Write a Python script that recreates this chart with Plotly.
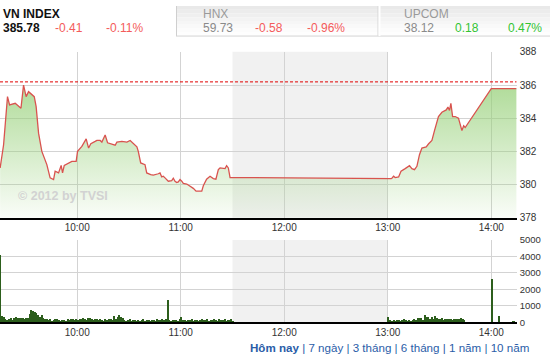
import plotly.graph_objects as go
import pandas as pd

DAY = "2012-06-01"

# ---------------- data ----------------
idx_times = [
    "09:15:20", "09:17:20", "09:19:36", "09:20:48", "09:24:04", "09:25:24", "09:27:24",
    "09:28:54", "09:30:24", "09:31:48", "09:33:42", "09:35:06", "09:36:12", "09:37:36",
    "09:39:30", "09:42:24", "09:44:18", "09:46:18", "09:47:12", "09:49:12", "09:50:42",
    "09:51:30", "09:52:30", "09:55:00", "09:56:54", "09:59:24", "10:00:12", "10:02:42",
    "10:05:12", "10:06:36", "10:07:54", "10:10:24", "10:11:24", "10:13:18", "10:14:18",
    "10:16:12", "10:17:36", "10:22:00", "10:23:00", "10:25:54", "10:28:48", "10:30:42",
    "10:32:36", "10:34:36", "10:35:24", "10:36:48", "10:39:18", "10:40:18", "10:42:36",
    "10:44:06", "10:47:00", "10:48:00", "10:49:00", "10:49:54", "10:50:54", "10:52:48",
    "10:54:48", "10:55:42", "10:56:42", "10:57:42", "10:58:36", "10:59:36", "11:00:36",
    "11:01:30", "11:03:30", "11:05:24", "11:07:18", "11:08:54", "11:12:12", "11:13:06",
    "11:15:00", "11:17:00", "11:18:54", "11:20:24", "11:21:48", "11:22:48", "11:24:18",
    "11:25:42", "11:26:36", "11:27:36", "11:28:36", "11:30:00", "13:02:00", "13:02:24",
    "13:03:24", "13:04:18", "13:06:18", "13:07:42", "13:10:06", "13:12:36", "13:14:00",
    "13:15:30", "13:16:54", "13:18:24", "13:19:48", "13:22:18", "13:23:42", "13:25:36",
    "13:27:06", "13:29:24", "13:31:24", "13:33:54", "13:34:54", "13:35:48", "13:36:36",
    "13:37:36", "13:39:06", "13:41:00", "13:43:00", "13:44:00", "13:44:54", "14:00:00",
    "14:14:40",
]
idx_values = [
    381.0, 382.4, 385.3, 384.8, 384.9, 384.8, 384.6,
    386.0, 385.3, 385.6, 385.45, 385.3, 384.7, 383.1,
    382.0, 381.2, 380.4, 380.3, 380.8, 380.7, 381.15,
    380.7, 381.15, 381.3, 381.4, 381.4, 382.0, 382.3,
    382.75, 382.2, 382.46, 382.6, 382.66, 382.66, 382.56,
    382.99, 382.52, 382.37, 382.56, 382.6, 382.56, 382.66,
    382.46, 382.27, 382.0, 381.3, 381.2, 380.7, 380.6,
    380.57, 380.65, 380.7, 380.46, 380.5, 380.4, 380.2,
    380.24, 380.38, 380.2, 380.12, 380.16, 380.3, 380.2,
    380.07, 380.03, 379.9, 379.77, 379.6, 379.6, 379.93,
    380.32, 380.5, 380.36, 380.32, 380.9, 381.0, 381.0,
    380.96, 381.14, 381.0, 380.42, 380.42, 380.36, 380.38,
    380.5, 380.42, 380.46, 380.8, 380.96, 381.14, 380.96,
    380.9, 381.1, 381.8, 382.2, 382.27, 382.46, 382.66,
    383.25, 384.1, 384.36, 384.5, 384.67, 384.47, 384.9,
    384.1, 384.1, 384.0, 383.25, 383.54, 383.44, 385.78,
    385.78,
]
ref_close = 386.19  # previous close (385.78 + 0.41)

vol_am_start = "09:15"
vol_am = [
    4100, 380, 340, 200, 170, 230, 280, 170, 280, 340,
    240, 280, 240, 240, 210, 280, 240, 490, 750, 680,
    620, 560, 430, 300, 470, 280, 190, 210, 150, 190,
    95, 150, 190, 230, 150, 110, 150, 150, 110, 190,
    150, 190, 230, 150, 190, 150, 230, 190, 260, 210,
    150, 280, 240, 190, 150, 190, 230, 150, 190, 150,
    110, 190, 150, 190, 230, 150, 380, 210,
    340, 430, 300, 240, 150, 110, 150, 190, 110, 130,
    150, 95, 130, 110, 150, 190, 110, 130, 150, 110,
    170, 130, 110, 200, 150, 130, 210, 150, 190, 1380,
    150, 110, 170, 130, 150, 110, 190, 320, 150, 130,
    110, 150, 130, 190, 110, 130, 150, 110, 170, 210,
    130, 150, 230, 110, 170, 130, 230, 150, 110, 190,
    150, 130, 210, 110, 150, 130, 190, 60,
]
vol_pm_start = "13:00"
vol_pm = [
    300, 130, 110, 130, 95, 150, 130, 110, 150, 200,
    170, 110, 150, 110, 150, 190, 130, 245, 280, 260,
    170, 480, 340, 300, 210, 340, 190, 380, 245, 210,
    190, 245, 170, 190, 210, 190, 210, 170, 190, 210,
    190, 230, 245, 190, 130,
]
vol_atc_times = ["14:00", "14:04", "14:12", "14:13"]
vol_atc = [2650, 420, 60, 80]

hour_ticks = ["10:00", "11:00", "12:00", "13:00", "14:00"]
idx_ticks = [378, 380, 382, 384, 386, 388]
vol_ticks = [0, 1000, 2000, 3000, 4000, 5000]

header = [
    ("VN INDEX", "385.78", "-0.41", "-0.11%"),
    ("HNX", "59.73", "-0.58", "-0.96%"),
    ("UPCOM", "38.12", "0.18", "0.47%"),
]
periods = ["Hôm nay", "7 ngày", "3 tháng", "6 tháng", "1 năm", "10 năm"]

# ---------------- helpers ----------------
W, H = 550, 364
def px(x):
    return x / W
def py(y):
    return 1 - y / H
def ts(t):
    return pd.Timestamp(f"{DAY} {t}")

FONT = "Liberation Sans, Arial, sans-serif"
x_range = [ts("09:15:15"), ts("14:14:45")]

t_idx = [ts(t) for t in idx_times]
t_am = list(pd.date_range(ts(vol_am_start), periods=len(vol_am), freq="1min"))
t_pm = list(pd.date_range(ts(vol_pm_start), periods=len(vol_pm), freq="1min"))
t_atc = [ts(t) for t in vol_atc_times]
vol_t = t_am + t_pm + t_atc
vol_v = vol_am + vol_pm + vol_atc

fig = go.Figure()

fig.add_trace(go.Scatter(
    x=t_idx, y=idx_values, mode="lines",
    line=dict(color="#d9534f", width=1.3),
    fill="tozeroy",
    fillgradient=dict(
        type="vertical", start=378, stop=386,
        colorscale=[[0, "rgba(150,208,120,0.03)"], [1, "rgba(150,208,120,0.75)"]],
    ),
    xaxis="x", yaxis="y", hoverinfo="skip", showlegend=False,
))
fig.add_trace(go.Scatter(
    x=x_range, y=[ref_close, ref_close], mode="lines",
    line=dict(color="#e00000", width=1, dash="3px,2px"),
    xaxis="x", yaxis="y", hoverinfo="skip", showlegend=False,
))
fig.add_trace(go.Bar(
    x=vol_t, y=vol_v, width=48000,
    xperiod=60000, xperiodalignment="middle",
    marker=dict(color="#2c5e1c", line=dict(width=0)),
    xaxis="x2", yaxis="y2", hoverinfo="skip", showlegend=False,
))

shapes = []
# lunch break bands
for xr, yr in (("x", "y domain"), ("x2", "y2 domain")):
    shapes.append(dict(type="rect", xref=xr, yref=yr, x0=ts("11:30"), x1=ts("13:00"),
                       y0=0, y1=1, fillcolor="#f1f1f1", line=dict(width=0), layer="below"))

# header boxes gradient
grad = ["#e9e9e9", "#ececec", "#efefef", "#f3f3f3", "#f6f6f6", "#f9f9f9", "#fcfcfc", "#fefefe"]
for i, c in enumerate(grad):
    shapes.append(dict(type="rect", xref="paper", yref="paper",
                       x0=px(176), x1=px(550), y0=py(31 * (i + 1) / len(grad)), y1=py(31 * i / len(grad)),
                       fillcolor=c, line=dict(width=0), layer="below"))
shapes.append(dict(type="line", xref="paper", yref="paper", x0=px(176.5), x1=px(176.5),
                   y0=py(0), y1=py(31), line=dict(color="#cfcfcf", width=1)))
shapes.append(dict(type="line", xref="paper", yref="paper", x0=px(176), x1=px(550),
                   y0=py(31), y1=py(31), line=dict(color="#d4d4d4", width=1)))
shapes.append(dict(type="line", xref="paper", yref="paper", x0=px(378), x1=px(378),
                   y0=py(0), y1=py(31), line=dict(color="#d6d6d6", width=1)))
shapes.append(dict(type="line", xref="paper", yref="paper", x0=px(379.5), x1=px(379.5),
                   y0=py(0), y1=py(31), line=dict(color="#ffffff", width=2)))

ann = []
def text(x, y, s, color, bold=False, size=12):
    ann.append(dict(xref="paper", yref="paper", x=px(x), y=py(y), text=(f"<b>{s}</b>" if bold else s),
                    showarrow=False, xanchor="left", yanchor="middle",
                    font=dict(family=FONT, size=size, color=color)))

RED, GREEN = "#f45b5b", "#33c433"
n, v, c, p = header[0]
text(1, 8.5, n, "#111", bold=True)
text(1, 22.5, v, "#111", bold=True)
text(53, 22.5, c, RED)
text(104, 22.5, p, RED)
n, v, c, p = header[1]
text(201, 8, n, "#9a9a9a")
text(201, 22.5, v, "#8a8a8a")
text(253, 22.5, c, RED)
text(305, 22.5, p, RED)
n, v, c, p = header[2]
text(402, 8, n, "#9a9a9a")
text(402, 22.5, v, "#8a8a8a")
text(453, 22.5, c, GREEN)
text(506, 22.5, p, GREEN)

# watermark
text(16, 196, "© 2012 by TVSI", "#d2d2d2", bold=True, size=12.5)

# period selector
sel = "<b>" + periods[0] + "</b>" + "".join(" | " + s for s in periods[1:])
ann.append(dict(xref="paper", yref="paper", x=px(531), y=py(352.5), text=sel,
                showarrow=False, xanchor="right", yanchor="middle",
                font=dict(family=FONT, size=11.6, color="#2a5da8")))

tick_font = dict(family=FONT, size=10, color="#333333")
xcommon = dict(type="date", range=x_range, tickvals=[ts(t) for t in hour_ticks],
               ticktext=hour_ticks, showgrid=True, gridcolor="#d3d3d3", gridwidth=1,
               showline=True, linecolor="#000000", linewidth=1.5, ticks="",
               tickfont=tick_font, zeroline=False, fixedrange=True,
               domain=[0, px(516.7)])

fig.update_layout(
    width=W, height=H, margin=dict(l=0, r=0, t=0, b=0),
    paper_bgcolor="white", plot_bgcolor="white",
    font=dict(family=FONT),
    bargap=0,
    xaxis=dict(**xcommon, anchor="y"),
    xaxis2=dict(**xcommon, anchor="y2"),
    yaxis=dict(domain=[py(218.3), py(47.3)], range=[378, 388], tickvals=idx_ticks,
               side="right", anchor="x", showgrid=True, gridcolor="#d3d3d3", gridwidth=1,
               zeroline=False, showline=False, ticks="", tickfont=tick_font,
               ticklabelstandoff=2),
    yaxis2=dict(domain=[py(326.3), py(241.3)], range=[0, 5000], tickvals=vol_ticks,
                side="right", anchor="x2", showgrid=True, gridcolor="#d3d3d3", gridwidth=1,
                zeroline=False, showline=False, ticks="", tickfont=dict(family=FONT, size=9.5, color="#333333"),
                ticklabelstandoff=2),
    shapes=shapes,
    annotations=ann,
)

fig.write_html("out.html")
